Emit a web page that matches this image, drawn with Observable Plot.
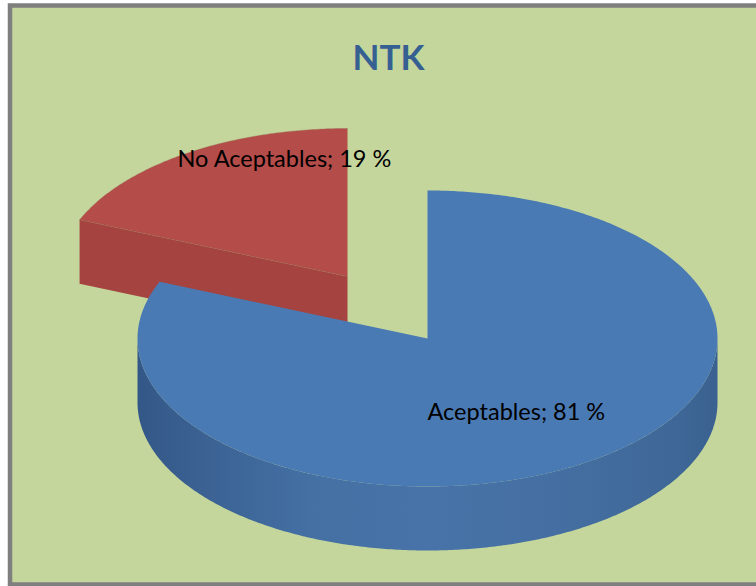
<!DOCTYPE html>
<html>
<head>
<meta charset="utf-8">
<script src="https://cdn.jsdelivr.net/npm/d3@7"></script>
<script src="https://cdn.jsdelivr.net/npm/@observablehq/plot@0.6"></script>
<style>html,body{margin:0;padding:0;background:#fff;overflow:hidden}svg{display:block}</style>
</head>
<body>
<div id="chart"></div>
<script>
const title = "NTK";
const categories = ["Aceptables", "No Aceptables"];
const shares = [81.25, 18.75];
const topColors = ["#4a7ab4", "#b44c49"];
const cutColors = ["#3f6a9c", "#a4433f"];
const labelPlacement = [{x: 427, y: 412}, {x: 177, y: 159}];
const sliceOffset = [{dx: 0, dy: 0}, {dx: -80, dy: -62}];

const W = 756, H = 586;
const center = {x: 427, y: 338}, rx = 290, ry = 148, depth = 64;

const total = d3.sum(shares);
let running = 0;
const slices = categories.map((name, i) => {
  const a0 = running / total * 2 * Math.PI;
  running += shares[i];
  const a1 = running / total * 2 * Math.PI;
  const cx = center.x + sliceOffset[i].dx, cy = center.y + sliceOffset[i].dy;
  return {i, name, share: shares[i], a0, a1, cx, cy};
});
const pt = (s, a, drop = 0) => ({x: s.cx + rx * Math.sin(a), y: s.cy - ry * Math.cos(a) + drop});
const arc = (s, a0, a1, drop = 0) => {
  const n = Math.max(2, Math.ceil(Math.abs(a1 - a0) / 0.01));
  return d3.range(n + 1).map(k => pt(s, a0 + (a1 - a0) * k / n, drop));
};
const topFace = s => [{x: s.cx, y: s.cy}, ...arc(s, s.a0, s.a1)];
const outerWall = s => {
  const from = Math.max(s.a0, Math.PI / 2), to = Math.min(s.a1, 3 * Math.PI / 2);
  return [...arc(s, from, to), ...arc(s, to, from, depth)];
};
const cutFace = s => {
  const p = pt(s, s.a0);
  return [p, {x: s.cx, y: s.cy}, {x: s.cx, y: s.cy + depth}, {x: p.x, y: p.y + depth}];
};
const [blue, red] = slices;

const defs = () => {
  const d = d3.create("svg:defs");
  const g = d.append("linearGradient").attr("id", "blueWall");
  [[0, "#335888"], [0.12, "#3b6293"], [0.3, "#4470a4"], [0.5, "#4773a8"], [0.72, "#456fa2"], [0.92, "#3f6898"], [1, "#3a618f"]]
    .forEach(([o, c]) => g.append("stop").attr("offset", o).attr("stop-color", c));
  return d.node();
};
const face = (pts, fill) => Plot.line(pts, {x: "x", y: "y", fill, stroke: "none"});

const plot = Plot.plot({
  width: W, height: H, margin: 0,
  x: {domain: [0, W], range: [0, W], axis: null},
  y: {domain: [0, H], range: [0, H], axis: null},
  style: {background: "#fff"},
  marks: [
    defs,
    Plot.frame({fill: "#c4d69b", stroke: "#7f7f7f", strokeWidth: 4.5, insetLeft: 9.5, insetTop: 5, insetBottom: 2, insetRight: -10}),
    face(cutFace(red), cutColors[1]),
    Plot.line(topFace(red), {x: "x", y: "y", fill: topColors[1], stroke: "#9a6a58", strokeWidth: 0.4}),
    face(outerWall(blue), "url(#blueWall)"),
    face(topFace(blue), topColors[0]),
    Plot.text([title], {frameAnchor: "top-left", dx: 388, dy: 58, text: d => d, textAnchor: "middle", lineAnchor: "middle",
      fontFamily: "Lato, Carlito, sans-serif", fontWeight: 700, fontSize: 35, fill: "#376092"}),
    Plot.text(slices, {
      x: d => labelPlacement[d.i].x, y: d => labelPlacement[d.i].y,
      text: d => `${d.name}; ${Math.round(d.share)} %`, textAnchor: "start", lineAnchor: "middle",
      fontFamily: "Lato, Carlito, sans-serif", fontSize: 23.5, fill: "#000"
    })
  ]
});
document.getElementById("chart").append(plot);
</script>
</body>
</html>
